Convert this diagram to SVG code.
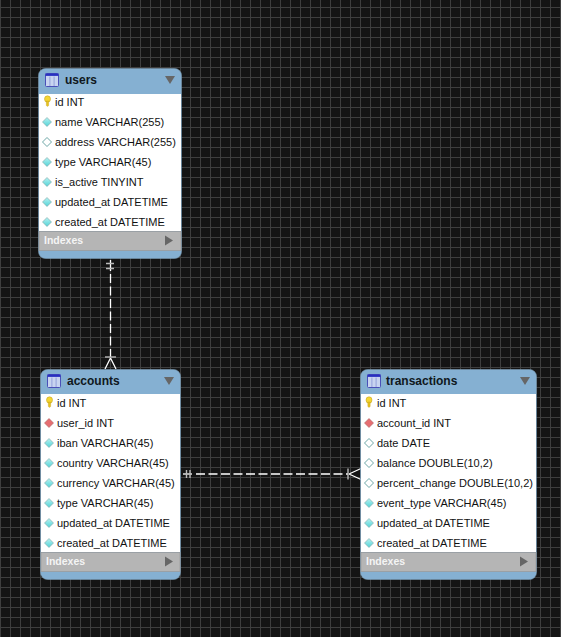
<svg xmlns="http://www.w3.org/2000/svg" width="561" height="637" viewBox="0 0 561 637">
<style>
text{font-family:"Liberation Sans",Arial,sans-serif}
.b{fill:#fff;stroke:none}
.frame{fill:#85b0d2;stroke:#7a9ab2;stroke-width:.6}
.title{font-size:12px;font-weight:700;fill:#101820}
.row{font-size:11px;fill:#111}
.idxbar{fill:#b5b5b5;stroke:#999;stroke-width:.7}
.idx{font-size:10.5px;font-weight:700;fill:#f4f4f4}
.arr{fill:#666}
.conn{stroke:#fff;stroke-width:1.3;fill:none}
.dash{stroke-dasharray:9 3.5}
.tick{stroke:#bbb;stroke-width:1.4;fill:none}
</style>
<defs>
<pattern id="grid" width="10" height="10" patternUnits="userSpaceOnUse" patternTransform="translate(0 7)">
<path d="M.5 0V10M0 .5H10" stroke="#3e3e3e" stroke-width="1" fill="none"/>
</pattern>
<linearGradient id="cy" x1="0" y1="0" x2="0" y2="1"><stop offset="0" stop-color="#b8f2f2"/><stop offset="1" stop-color="#52d2d6"/></linearGradient>
<g id="ti"><rect x="0" y="0" width="13" height="13" rx="1" fill="#c8d4f0" stroke="#4a50b8"/><rect x="0" y="0" width="13" height="2.400" fill="#2830c0"/><path d="M4.400 3V12.500M8.600 3V12.500" stroke="#8d9ad8" stroke-width=".9"/></g>
<g id="key"><ellipse cx="0" cy="-2" rx="3" ry="3.200" fill="#f5d633" stroke="#bd9d1c" stroke-width=".5"/><path d="M-1.200 0H1.200V4.500L0 5.500L-1.200 4.500Z" fill="#e6c120" stroke="#b39518" stroke-width=".3"/></g>
<path id="df" d="M0 -4.500L4.500 0L0 4.500L-4.500 0Z" fill="url(#cy)" stroke="#7fa3a3" stroke-width=".6"/>
<path id="de" d="M0 -4.500L4.500 0L0 4.500L-4.500 0Z" fill="#fff" stroke="#5c9c9c" stroke-width=".9"/>
<path id="dr" d="M0 -4.500L4.500 0L0 4.500L-4.500 0Z" fill="#e66e72" stroke="#a86060" stroke-width=".6"/>
<path id="down" d="M-5 -4H5L0 4Z" class="arr"/>
<path id="right" d="M-4 -5V5L4 0Z" class="arr"/>
</defs>
<rect width="561" height="637" fill="#141414"/>
<rect width="561" height="637" fill="url(#grid)"/>
<g id="connectors">
<path class="conn" d="M110.500 260V271"/>
<path class="conn dash" d="M110.500 274V357"/>
<path class="tick" d="M106 263.500H114M106 268.500H114"/>
<path class="tick" d="M105 357H116"/>
<path class="conn" d="M110.500 358L105 369M110.500 358L116 369" stroke-width="1"/>
<path class="conn" d="M183 474H192"/>
<path class="conn dash" d="M196 474H348"/>
<path class="tick" d="M186.500 470V478M190 470V478"/>
<path class="tick" d="M348 468.500V479.500"/>
<path class="conn" d="M349 474L361 468.500M349 474L361 479.500" stroke-width="1"/>
</g>
<g id="users">
<rect class="frame" x="38.500" y="68.500" width="143" height="190" rx="7"/>
<rect class="b" x="39" y="94" width="142" height="137"/>
<use href="#ti" x="45.500" y="73.500"/>
<text class="title" x="65" y="84">users</text>
<use href="#down" x="170" y="80"/>
<use href="#key" x="47.500" y="101"/><text class="row" x="55" y="106">id INT</text>
<use href="#df" x="47" y="122"/><text class="row" x="55" y="126">name VARCHAR(255)</text>
<use href="#de" x="47" y="142"/><text class="row" x="55" y="146">address VARCHAR(255)</text>
<use href="#df" x="47" y="162"/><text class="row" x="55" y="166">type VARCHAR(45)</text>
<use href="#df" x="47" y="182"/><text class="row" x="55" y="186">is_active TINYINT</text>
<use href="#df" x="47" y="202"/><text class="row" x="55" y="206">updated_at DATETIME</text>
<use href="#df" x="47" y="222"/><text class="row" x="55" y="226">created_at DATETIME</text>
<rect class="idxbar" x="39" y="231.500" width="142" height="19"/>
<text class="idx" x="44" y="244">Indexes</text>
<use href="#right" x="169" y="240.500"/>
</g>
<g id="accounts">
<rect class="frame" x="40.500" y="369.500" width="140" height="210" rx="7"/>
<rect class="b" x="41" y="394" width="139" height="158"/>
<use href="#ti" x="47.500" y="374.500"/>
<text class="title" x="67" y="385">accounts</text>
<use href="#down" x="169" y="381"/>
<use href="#key" x="49.500" y="402"/><text class="row" x="57" y="407">id INT</text>
<use href="#dr" x="49" y="423"/><text class="row" x="57" y="427">user_id INT</text>
<use href="#df" x="49" y="443"/><text class="row" x="57" y="447">iban VARCHAR(45)</text>
<use href="#df" x="49" y="463"/><text class="row" x="57" y="467">country VARCHAR(45)</text>
<use href="#df" x="49" y="483"/><text class="row" x="57" y="487">currency VARCHAR(45)</text>
<use href="#df" x="49" y="503"/><text class="row" x="57" y="507">type VARCHAR(45)</text>
<use href="#df" x="49" y="523"/><text class="row" x="57" y="527">updated_at DATETIME</text>
<use href="#df" x="49" y="543"/><text class="row" x="57" y="547">created_at DATETIME</text>
<rect class="idxbar" x="41" y="552.500" width="139" height="19"/>
<text class="idx" x="46" y="565">Indexes</text>
<use href="#right" x="169" y="561.500"/>
</g>
<g id="transactions">
<rect class="frame" x="360.500" y="369.500" width="176" height="210" rx="7"/>
<rect class="b" x="361" y="394" width="175" height="158"/>
<use href="#ti" x="367.500" y="374.500"/>
<text class="title" x="386" y="385">transactions</text>
<use href="#down" x="525" y="381"/>
<use href="#key" x="369" y="402"/><text class="row" x="377" y="407">id INT</text>
<use href="#dr" x="369" y="423"/><text class="row" x="377" y="427">account_id INT</text>
<use href="#de" x="369" y="443"/><text class="row" x="377" y="447">date DATE</text>
<use href="#de" x="369" y="463"/><text class="row" x="377" y="467">balance DOUBLE(10,2)</text>
<use href="#de" x="369" y="483"/><text class="row" x="377" y="487">percent_change DOUBLE(10,2)</text>
<use href="#df" x="369" y="503"/><text class="row" x="377" y="507">event_type VARCHAR(45)</text>
<use href="#df" x="369" y="523"/><text class="row" x="377" y="527">updated_at DATETIME</text>
<use href="#df" x="369" y="543"/><text class="row" x="377" y="547">created_at DATETIME</text>
<rect class="idxbar" x="361" y="552.500" width="175" height="19"/>
<text class="idx" x="366" y="565">Indexes</text>
<use href="#right" x="524" y="561.500"/>
</g>
</svg>
